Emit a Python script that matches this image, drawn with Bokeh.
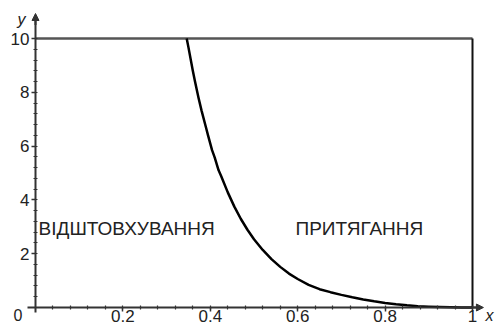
from bokeh.plotting import figure
from bokeh.models import (Range1d, FixedTicker, NumeralTickFormatter, Label,
                          Arrow, NormalHead, ColumnDataSource)
from bokeh.core.properties import value
from bokeh.embed import file_html
from bokeh.resources import INLINE

# ---- data ----
x_vals = [0.346, 0.35, 0.36, 0.365, 0.373, 0.38, 0.39, 0.395, 0.404, 0.41,
          0.419, 0.425, 0.44, 0.455, 0.47, 0.485, 0.50, 0.52, 0.54, 0.56,
          0.58, 0.60, 0.625, 0.65, 0.675, 0.70, 0.725, 0.75, 0.775, 0.80,
          0.825, 0.85, 0.875, 0.90, 0.925, 0.95, 0.975, 1.0]
y_vals = [10.0, 9.67, 8.8, 8.4, 7.8, 7.32, 6.7, 6.39, 5.85, 5.58,
          5.1, 4.88, 4.28, 3.75, 3.29, 2.89, 2.54, 2.14, 1.80, 1.51,
          1.26, 1.06, 0.84, 0.68, 0.57, 0.47, 0.38, 0.30, 0.23, 0.17,
          0.12, 0.08, 0.05, 0.03, 0.015, 0.006, 0.002, 0.0]

x_major = [0.2, 0.4, 0.6, 0.8, 1.0]
y_major = [2, 4, 6, 8, 10]
X_MAX = 1.0
Y_MAX = 10.0
region_labels = ["ВІДШТОВХУВАННЯ", "ПРИТЯГАННЯ"]
region_x = [0.007, 0.595]
region_y = [2.95, 2.95]

FONT = "Liberation Sans"
W, H = 496, 325
# pixel mapping: x=0 -> 35px, x=1 -> 472px ; y=0 -> 307px, y=10 -> 38px
sx = 437.0
sy = 26.9

p = figure(width=W, height=H, output_backend="svg", toolbar_location=None,
           x_range=Range1d(-35 / sx, (W - 35) / sx),
           y_range=Range1d(-(H - 307) / sy, 307 / sy),
           min_border=0)
p.outline_line_color = None
p.xgrid.visible = False
p.ygrid.visible = False
p.background_fill_color = "white"
p.border_fill_color = "white"

x_minor = [round(i * 0.04, 2) for i in range(1, 26)]
y_minor = [round(i * 0.4, 1) for i in range(1, 26)]

for ax, ticks, minor, bounds in (
        (p.xaxis[0], x_major, x_minor, (-8 / sx, 1.02)),
        (p.yaxis[0], y_major, y_minor, (-5 / sy, (307 - 16) / sy))):
    ax.fixed_location = 0
    ax.ticker = FixedTicker(ticks=ticks, minor_ticks=minor)
    ax.formatter = NumeralTickFormatter(format="0.[0]")
    ax.bounds = bounds
    ax.axis_line_color = "#333333"
    ax.axis_line_width = 2
    ax.major_tick_line_color = "#333333"
    ax.major_tick_line_width = 1.5
    ax.major_tick_out = 4
    ax.major_tick_in = 0
    ax.minor_tick_line_color = "#333333"
    ax.minor_tick_line_width = 1.2
    ax.minor_tick_out = 2
    ax.minor_tick_in = 2
    ax.major_label_text_font = FONT
    ax.major_label_text_font_size = "17px"
    ax.major_label_text_color = "#222222"

p.xaxis[0].major_label_standoff = -2
p.yaxis[0].major_label_standoff = 2

# axis arrow heads
p.add_layout(Arrow(end=NormalHead(size=7, fill_color="#333333", line_color="#333333"),
                   x_start=1.0, y_start=0, x_end=1.025, y_end=0,
                   line_color="#333333", line_width=2))
p.add_layout(Arrow(end=NormalHead(size=7, fill_color="#333333", line_color="#333333"),
                   x_start=0, y_start=10.5, x_end=0, y_end=(307 - 13) / sy,
                   line_color="#333333", line_width=2))

# frame lines at the top (y = 10) and right (x = 1)
p.line(x=[0, X_MAX], y=[Y_MAX, Y_MAX], line_color="#555555", line_width=2.5)
p.line(x=[X_MAX, X_MAX], y=[0, Y_MAX], line_color="#111111", line_width=2)

# curve
p.line(x=x_vals, y=y_vals, line_color="black", line_width=2.5, line_join="round")

# region labels
src = ColumnDataSource(dict(x=region_x, y=region_y, t=region_labels))
p.text(x="x", y="y", text="t", source=src, text_font=value(FONT),
       text_font_size="19px", text_baseline="middle", text_align="left",
       text_color="#222222")

# origin "0" and axis names
p.add_layout(Label(x=17.5, y=H - 314, x_units="screen", y_units="screen", text="0",
                   text_font=FONT, text_font_size="16px", text_align="center",
                   text_baseline="middle", text_color="#222222"))
p.add_layout(Label(x=21, y=H - 19, x_units="screen", y_units="screen", text="y",
                   text_font=FONT, text_font_style="italic", text_font_size="16px",
                   text_align="center", text_baseline="middle", text_color="#222222"))
p.add_layout(Label(x=489, y=H - 315, x_units="screen", y_units="screen", text="x",
                   text_font=FONT, text_font_style="italic", text_font_size="16px",
                   text_align="center", text_baseline="middle", text_color="#222222"))

open("out.html", "w").write(file_html(p, INLINE))
